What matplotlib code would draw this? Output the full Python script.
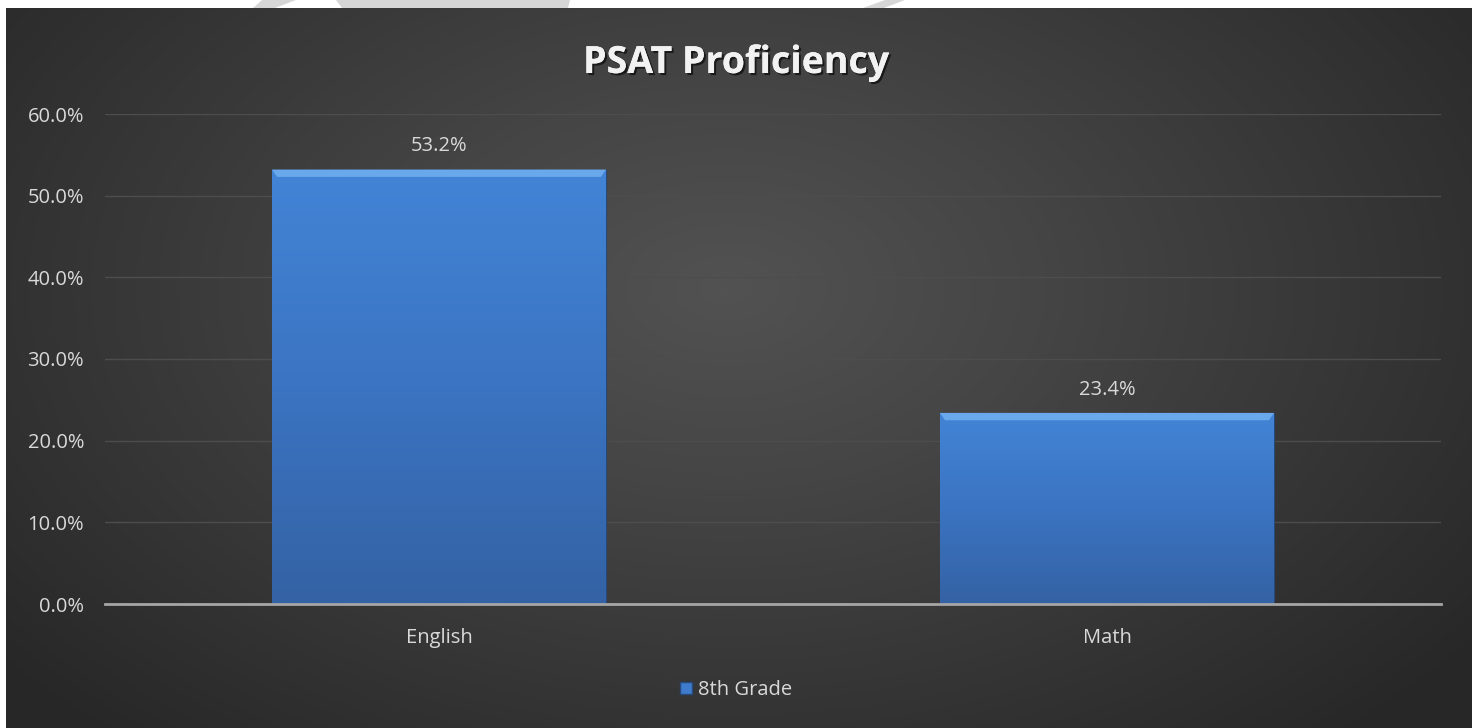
import matplotlib.pyplot as plt
import numpy as np
from matplotlib.patches import Patch, Polygon
from matplotlib.colors import LinearSegmentedColormap
from matplotlib.ticker import PercentFormatter
import matplotlib.patheffects as pe

categories = ["English", "Math"]
values = [53.2, 23.4]
series_name = "8th Grade"
yticks = [0, 10, 20, 30, 40, 50, 60]

W, H = 1472, 728
fig = plt.figure(figsize=(W / 100, H / 100), dpi=100)
fig.patch.set_facecolor("white")

# dark chart area with radial gradient
bg = fig.add_axes([6 / W, 0, 1 - 6 / W, 1 - 8 / H])
bg.set_axis_off()
yy, xx = np.mgrid[0:720, 0:1466]
d = np.sqrt(((xx - 720) / 950.0) ** 2 + ((yy - 280) / 600.0) ** 2)
d = np.clip(d, 0, 1)
bg_cmap = LinearSegmentedColormap.from_list("bg", ["#525252", "#454545", "#363636", "#272727"])
bg.imshow(d, cmap=bg_cmap, aspect="auto", extent=(0, 1, 0, 1), origin="upper")
bg.set_xlim(0, 1)
bg.set_ylim(0, 1)

# faint watermark bits in the top white strip
for pts in [[(262, 0), (296, 0), (275, 8), (253, 8)],
            [(336, 0), (570, 0), (568, 8), (342, 8)],
            [(885, 0), (905, 0), (884, 8), (863, 8)]]:
    fig.patches.append(Polygon([(x / W, 1 - y / H) for x, y in pts], closed=True,
                               transform=fig.transFigure, facecolor="#d6d6d6",
                               edgecolor="none", zorder=0))

ax = fig.add_axes([105 / W, 124 / H, 1336 / W, 490 / H])
ax.set_facecolor("none")

x = np.arange(len(categories))
bars = ax.bar(x, values, width=0.5, color="#3f7bcc", edgecolor="#27487a",
              linewidth=0.8, zorder=3)

bar_cmap = LinearSegmentedColormap.from_list("bar", ["#3462a4", "#3b74c2", "#4384d6"])
grad = np.linspace(0, 1, 256).reshape(-1, 1)
for b in bars:
    x0, w, h = b.get_x(), b.get_width(), b.get_height()
    im = ax.imshow(grad, cmap=bar_cmap, aspect="auto", origin="lower",
                   extent=(x0, x0 + w, 0, h), zorder=3.5)
    im.set_clip_path(b)
    # top bevel highlight
    ax.fill([x0, x0 + w, x0 + w * 0.985, x0 + w * 0.015],
            [h, h, h - 0.9, h - 0.9], color="#6aa8ec", zorder=4, lw=0)
    ax.text(x0 + w / 2, h + 1.6, f"{h:.1f}%", ha="center", va="bottom",
            color="#d9d9d9", fontsize=14.5, family="Open Sans")

ax.set_xlim(-0.5, len(categories) - 0.5)
ax.set_ylim(0, 60)
ax.set_yticks(yticks)
ax.yaxis.set_major_formatter(PercentFormatter(decimals=1))
ax.set_xticks(x)
ax.set_xticklabels(categories)
ax.tick_params(axis="both", length=0, colors="#d9d9d9", labelsize=14.5)
ax.tick_params(axis="y", pad=15)
ax.tick_params(axis="x", pad=17)
for lab in ax.get_xticklabels() + ax.get_yticklabels():
    lab.set_family("Open Sans")
ax.grid(axis="y", color="#4d4d4d", linewidth=1, zorder=0)
for s in ["top", "right", "left"]:
    ax.spines[s].set_visible(False)
ax.spines["bottom"].set_color("#a6a6a6")
ax.spines["bottom"].set_linewidth(2)
ax.spines["bottom"].set_zorder(5)

fig.text(0.5, 1 - 63 / H, "PSAT Proficiency", ha="center", va="center",
         color="#f2f2f2", fontsize=27, fontweight="bold", family="Open Sans",
         path_effects=[pe.withSimplePatchShadow(offset=(1.5, -1.5), shadow_rgbFace="black", alpha=0.6),
                       pe.Normal()])

handle = Patch(facecolor="#3f7bcc", edgecolor="#27487a")
fig.legend([handle], [series_name], loc="center", bbox_to_anchor=(0.5, 1 - 690 / H),
           frameon=False, labelcolor="#d9d9d9", handlelength=0.6,
           handleheight=0.6, handletextpad=0.3, prop={"family": "Open Sans", "size": 14.5})

fig.savefig("out.png", dpi=100, facecolor=fig.get_facecolor())
